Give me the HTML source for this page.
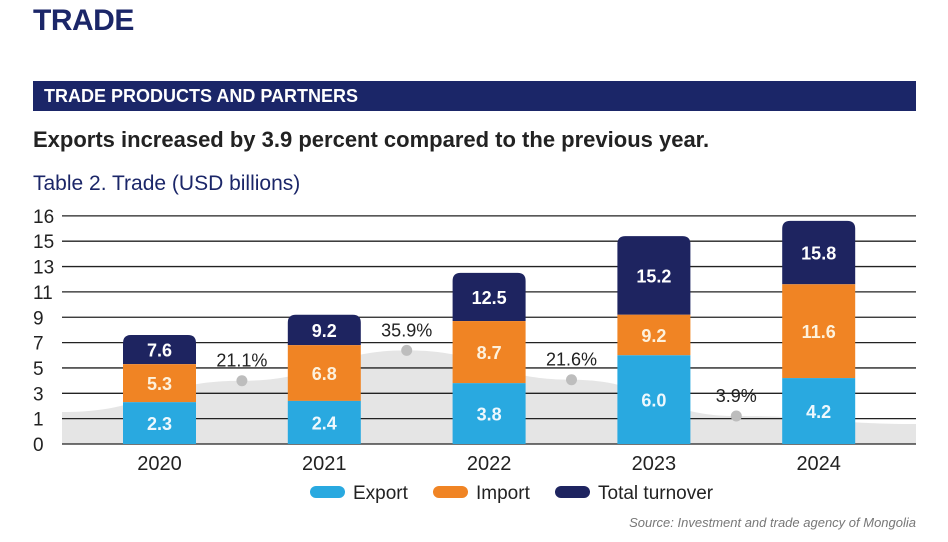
<!DOCTYPE html>
<html><head><meta charset="utf-8"><style>
body{margin:0;background:#fff;font-family:"Liberation Sans",sans-serif;}
#wrap{position:relative;width:948px;height:542px;overflow:hidden;}
</style></head><body>
<div id="wrap">
<div style="position:absolute;left:33px;top:4px;font-size:30px;font-weight:bold;color:#1b2668;letter-spacing:-0.5px">TRADE</div>
<div style="position:absolute;left:33px;top:81px;width:883px;height:30px;background:#1b2668;color:#fff;font-weight:bold;font-size:18px;line-height:31px;padding-left:11px;box-sizing:border-box">TRADE PRODUCTS AND PARTNERS</div>
<div style="position:absolute;left:33px;top:127px;font-size:22px;font-weight:bold;color:#222">Exports increased by 3.9 percent compared to the previous year.</div>
<div style="position:absolute;left:33px;top:172px;font-size:21px;color:#1b2668">Table 2. Trade (USD billions)</div>
<svg id="chart" width="948" height="542" style="position:absolute;left:0;top:0"></svg>
<div style="position:absolute;right:32px;top:515px;font-size:13px;font-style:italic;color:#777">Source: Investment and trade agency of Mongolia</div>
</div>
<script>
const years=["2020","2021","2022","2023","2024"];
const exportVals=[2.3,2.4,3.8,6.0,4.2];
const importVals=[5.3,6.8,8.7,9.2,11.6];
const totalVals=[7.6,9.2,12.5,15.2,15.8];
const growthLabels=["21.1%","35.9%","21.6%","3.9%"];
const growthVals=[21.1,35.9,21.6,3.9];
const yTicks=[0,1,3,5,7,9,11,13,15,16];

const NS="http://www.w3.org/2000/svg";
const svg=document.getElementById('chart');
const X0=62,X1=916,Y0=444,STEP=25.35;
function yIdx(v){return v<=1?v:(v<=15?1+(v-1)/2:8+(v-15));}
function y(v){return Y0-yIdx(v)*STEP;}
function xc(i){return 159.5+i*164.8;}
function gy(g){return 424-2.05*g;}
function el(t,a,txt){const e=document.createElementNS(NS,t);for(const k in a)e.setAttribute(k,a[k]);if(txt!==undefined)e.textContent=txt;svg.appendChild(e);return e;}

const pts=[[X0,412]];
growthVals.forEach((g,i)=>pts.push([(xc(i)+xc(i+1))/2,gy(g)]));
pts.push([X1,424]);
let d=`M${pts[0][0]},${pts[0][1]}`;
for(let i=0;i<pts.length-1;i++){const p=pts[i],q=pts[i+1],mx=(p[0]+q[0])/2;d+=` C${mx},${p[1]} ${mx},${q[1]} ${q[0]},${q[1]}`;}
d+=` L${X1},${Y0} L${X0},${Y0} Z`;
const area=el('path',{d:d,fill:'#e5e5e5'});



yTicks.forEach((t,i)=>{
 const yy=Y0-i*STEP;
 const ln=el('line',{x1:X0,x2:X1,y1:yy,y2:yy,stroke:'#222','stroke-width':1.3});
 
 
 const tx=el('text',{x:33,y:yy+7,'font-size':19,fill:'#222'},t);
 
 
});

growthVals.forEach((g,i)=>{
 const cx=(xc(i)+xc(i+1))/2;
 const c=el('circle',{cx:cx,cy:gy(g),r:5.5,fill:'#bdbdbd'});
 
 
 const t=el('text',{x:cx,y:gy(g)-14,'text-anchor':'middle','font-size':18,fill:'#222'},growthLabels[i]);
 
 
});

const W=73;
years.forEach((yr,i)=>{
 const x=xc(i)-W/2;
 const yt=y(totalVals[i]),yi=y(importVals[i]),ye=y(exportVals[i]);
 const top=el('path',{d:`M${x},${yi} L${x},${yt+8} Q${x},${yt} ${x+8},${yt} L${x+W-8},${yt} Q${x+W},${yt} ${x+W},${yt+8} L${x+W},${yi} Z`,fill:'#1e2460'});
 
 
 const im=el('rect',{x:x,y:yi,width:W,height:ye-yi,fill:'#f08424'});
 
 
 const ex=el('rect',{x:x,y:ye,width:W,height:Y0-ye,fill:'#29a9e0'});
 
 
 [[totalVals[i],(yt+yi)/2,'#fff'],[importVals[i],(yi+ye)/2,'#fdf1dc'],[exportVals[i],(ye+Y0)/2,'#eef8fd']].forEach(a=>{
  const t=el('text',{x:xc(i),y:a[1]+7,'text-anchor':'middle','font-size':18,'font-weight':'bold',fill:a[2]},a[0].toFixed(1));
  
  
 });
 const yl=el('text',{x:xc(i),y:470,'text-anchor':'middle','font-size':20,fill:'#222'},yr);
 
 
});

const legend=[["Export","#29a9e0",310],["Import","#f08424",433],["Total turnover","#1e2460",555]];
legend.forEach(l=>{
 const r=el('rect',{x:l[2],y:486,width:35,height:12,rx:6,fill:l[1]});
 
 
 const t=el('text',{x:l[2]+43,y:499,'font-size':19,fill:'#222'},l[0]);
 
 
});
</script>
</body></html>
